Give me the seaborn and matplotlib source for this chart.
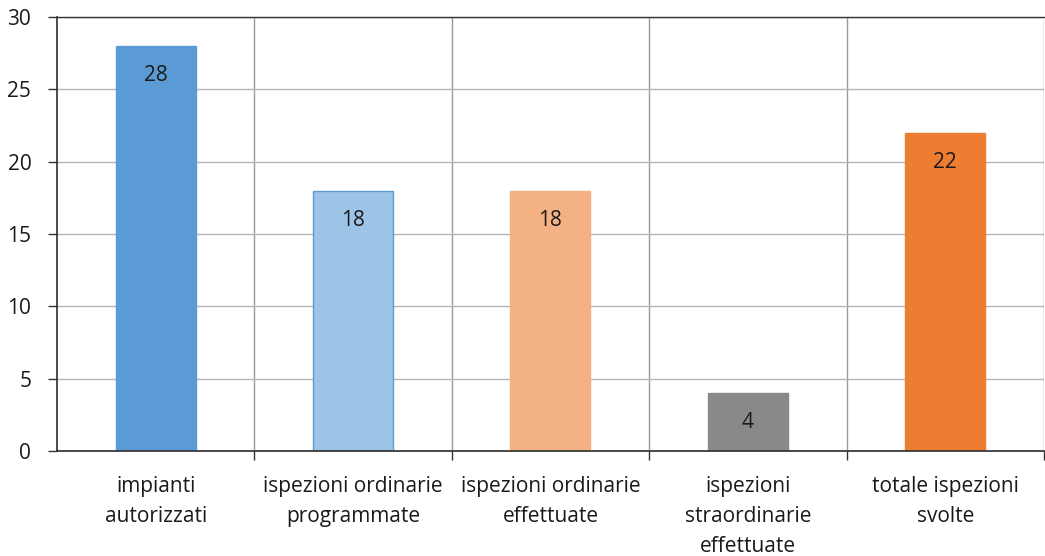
import numpy as np
import pandas as pd
import matplotlib
matplotlib.use("Agg")
import matplotlib.pyplot as plt
import seaborn as sns

# dati
categorie = ["impianti\nautorizzati", "ispezioni ordinarie\nprogrammate",
             "ispezioni ordinarie\neffettuate", "ispezioni\nstraordinarie\neffettuate",
             "totale ispezioni\nsvolte"]
valori = [28, 18, 18, 4, 22]
colori = ["#5B9BD5", "#9DC3E6", "#F4B183", "#898989", "#ED7D31"]
bordi = ["#5B9BD5", "#5B9BD5", "#F4B183", "#898989", "#ED7D31"]
y_ticks = [0, 5, 10, 15, 20, 25, 30]

df = pd.DataFrame({"categoria": categorie, "valore": valori})

sns.set_theme(style="white")
plt.rcParams["font.family"] = ["Open Sans", "DejaVu Sans"]

fig = plt.figure(figsize=(10.45, 5.56), dpi=100)
ax = fig.add_axes([0.0545, 0.189, 0.9445, 0.7805])

sns.barplot(data=df, x="categoria", y="valore", hue="categoria", palette=colori,
            legend=False, width=0.405, ax=ax, saturation=1)

for patch, ec in zip(ax.patches, bordi):
    patch.set_edgecolor(ec)
    patch.set_linewidth(1)

for c in ax.containers:
    ax.bar_label(c, label_type="edge", padding=-29, fontsize=15, color="#1a1a1a")

ax.set_ylim(0, 30)
ax.set_xlim(-0.5, 4.5)
ax.set_yticks(y_ticks)
ax.set_xlabel("")
ax.set_ylabel("")

# griglia
ax.set_axisbelow(True)
ax.yaxis.grid(True, color="#b4b4b4", linewidth=1)
ax.set_xticks(np.arange(0.5, 4.6, 1), minor=True)
ax.xaxis.grid(True, which="minor", color="#9a9a9a", linewidth=1)
ax.tick_params(axis="x", which="major", length=0, pad=18, labelsize=15, colors="#1a1a1a")
ax.tick_params(axis="x", which="minor", length=6.5, width=1, color="#333333", direction="out")
ax.tick_params(axis="y", length=6.5, width=1, color="#333333", direction="out",
               labelsize=15, labelcolor="#1a1a1a", pad=12)
ax.xaxis.set_tick_params(which="minor", bottom=True)
ax.yaxis.set_tick_params(left=True)
for lab in ax.get_xticklabels():
    lab.set_linespacing(1.55)

for s in ["top", "right"]:
    ax.spines[s].set_visible(False)
ax.spines["left"].set_color("#333333")
ax.spines["bottom"].set_color("#333333")
ax.axhline(30, color="#333333", linewidth=1, clip_on=False)

fig.savefig("out.png", dpi=100)
